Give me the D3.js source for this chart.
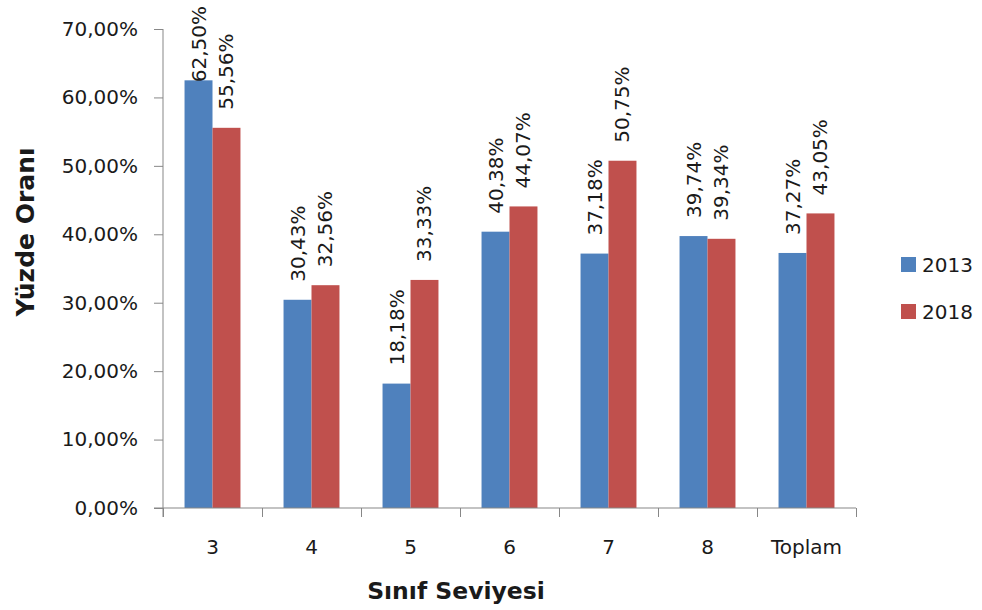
<!DOCTYPE html>
<html>
<head>
<meta charset="utf-8">
<script src="https://cdn.jsdelivr.net/npm/d3@7"></script>
<style>
  html, body { margin: 0; padding: 0; background: #fff; }
  svg { display: block; }
  text { font-family: "DejaVu Sans", Verdana, sans-serif; fill: #1a1a1a; }
  .title { font-family: "DejaVu Sans", sans-serif; font-weight: 700; }
</style>
</head>
<body>
<svg id="chart" width="982" height="610"></svg>
<script>
// Grade levels and the share (%) for each survey year
const categories = ["3", "4", "5", "6", "7", "8", "Toplam"];
const years = ["2013", "2018"];
const values2013 = [62.50, 30.43, 18.18, 40.38, 37.18, 39.74, 37.27];
const values2018 = [55.56, 32.56, 33.33, 44.07, 50.75, 39.34, 43.05];
const yTicks = [0, 10, 20, 30, 40, 50, 60, 70];
const colors = ["#4F81BD", "#C0504D"];
const xTitle = "Sınıf Seviyesi";
const yTitle = "Yüzde Oranı";

const series = [values2013, values2018];
const fmt = v => d3.format(".2f")(v).replace(".", ",") + "%";

const svg = d3.select("#chart");
const plot = { left: 163, right: 856, top: 29, bottom: 508 };

const y = d3.scaleLinear().domain([0, 70]).range([plot.bottom, plot.top]);
const x0 = d3.scaleBand().domain(categories).range([plot.left, plot.right]).padding(0);
const x1 = d3.scaleBand().domain(years).range([0, x0.bandwidth()])
  .paddingInner(0).paddingOuter(0.77);

// Bars
const groups = svg.append("g").selectAll("g")
  .data(categories)
  .join("g")
  .attr("transform", c => `translate(${x0(c)},0)`);

groups.selectAll("rect")
  .data((c, i) => years.map((yr, s) => ({ yr, s, v: series[s][i] })))
  .join("rect")
  .attr("x", d => x1(d.yr))
  .attr("width", x1.bandwidth())
  .attr("y", d => y(d.v))
  .attr("height", d => plot.bottom - y(d.v))
  .attr("fill", d => colors[d.s]);

// Value labels, rotated, above each bar (kept inside the top edge)
groups.selectAll("text.val")
  .data((c, i) => years.map((yr, s) => ({ yr, s, v: series[s][i] })))
  .join("text")
  .attr("class", "val")
  .style("font-size", "20px")
  .text(d => fmt(d.v))
  .each(function (d) {
    const len = this.getComputedTextLength();
    let start = y(d.v) - 18;
    if (start - len < 6) start = 6 + len;
    const cx = x1(d.yr) + x1.bandwidth() / 2 + 7;
    d3.select(this).attr("transform", `translate(${cx},${start}) rotate(-90)`);
  });

// Y axis
const yAxis = d3.axisLeft(y)
  .tickValues(yTicks)
  .tickSize(9)
  .tickPadding(16)
  .tickFormat(fmt);
const gy = svg.append("g").attr("transform", `translate(${plot.left},0)`).call(yAxis);
gy.select(".domain").remove();
gy.append("line").attr("x1", 0).attr("x2", 0).attr("y1", plot.top).attr("y2", plot.bottom + 9)
  .attr("stroke", "#878787");
gy.selectAll(".tick line").attr("stroke", "#878787");
gy.selectAll(".tick text").style("font-size", "20px").style("font-family", "DejaVu Sans").attr("fill", "#1a1a1a");

// X axis: ticks at category boundaries, labels at category centres
const xb = d3.scaleLinear().domain([0, categories.length]).range([plot.left, plot.right]);
const gxTicks = svg.append("g").attr("transform", `translate(0,${plot.bottom})`)
  .call(d3.axisBottom(xb).ticks(categories.length).tickSize(9).tickFormat(""));
gxTicks.select(".domain").remove();
gxTicks.selectAll(".tick line").attr("stroke", "#878787");
gxTicks.append("line").attr("x1", plot.left - 9).attr("x2", plot.right)
  .attr("y1", 0).attr("y2", 0).attr("stroke", "#878787");

const gx = svg.append("g").attr("transform", `translate(0,${plot.bottom})`)
  .call(d3.axisBottom(x0).tickSize(0).tickPadding(46));
gx.select(".domain").remove();
gx.selectAll(".tick text").style("font-size", "20px").style("font-family", "DejaVu Sans")
  .attr("fill", "#1a1a1a").attr("dy", 0);

// Axis titles
svg.append("text").attr("class", "title")
  .attr("transform", "translate(25,232) rotate(-90)")
  .attr("text-anchor", "middle").attr("dominant-baseline", "central")
  .style("font-size", "25px")
  .text(yTitle);

svg.append("text").attr("class", "title")
  .attr("x", 456).attr("y", 599)
  .attr("text-anchor", "middle")
  .style("font-size", "23.5px")
  .text(xTitle);

// Legend
const legend = svg.append("g").selectAll("g")
  .data(years)
  .join("g")
  .attr("transform", (d, i) => `translate(901,${257 + i * 47})`);
legend.append("rect").attr("width", 15).attr("height", 15).attr("fill", (d, i) => colors[i]);
legend.append("text").attr("x", 21).attr("y", 8).attr("dominant-baseline", "central")
  .style("font-size", "20px").text(d => d);
</script>
</body>
</html>
